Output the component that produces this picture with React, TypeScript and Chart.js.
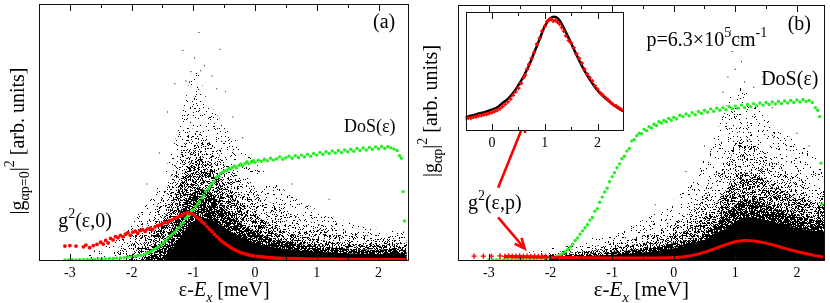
import React, { useEffect, useRef } from 'react';
import { Chart, registerables } from 'chart.js';
Chart.register(...registerables);

const FONT = "'Liberation Serif', 'Times New Roman', Times, serif";
const RED = '#ff0000';
const GREEN = '#22ee22';

// ---------- axis ranges / ticks ----------
const xRangeA = [-3.5, 2.5];
const xRangeB = [-3.5, 2.45];
const xRangeInset = [-0.5, 2.5];
const xTicksMain = [-3.5, -3, -2.5, -2, -1.5, -1, -0.5, 0, 0.5, 1, 1.5, 2, 2.5];
const xTicksInset = [-0.5, 0, 0.5, 1, 1.5, 2, 2.5];

// ---------- panel (a) ----------
const greenAX = [-3.08,-3.02,-2.96,-2.9,-2.84,-2.78,-2.72,-2.66,-2.6,-2.54,-2.48,-2.42,-2.36,-2.3,-2.24,-2.18,-2.12,-2.06,-2.0,-1.95,-1.9,-1.85,-1.8,-1.76,-1.72,-1.68,-1.64,-1.6,-1.56,-1.52,-1.48,-1.44,-1.41,-1.37,-1.34,-1.3,-1.27,-1.23,-1.2,-1.16,-1.13,-1.1,-1.06,-1.03,-1.0,-0.96,-0.93,-0.9,-0.86,-0.83,-0.8,-0.76,-0.73,-0.7,-0.66,-0.63,-0.6,-0.56,-0.53,-0.5,-0.46,-0.43,-0.4,-0.36,-0.33,-0.3,-0.26,-0.23,-0.2,-0.16,-0.13,-0.1,-0.06,-0.03,0.0,0.05,0.1,0.15,0.2,0.25,0.3,0.35,0.4,0.45,0.5,0.55,0.6,0.65,0.7,0.75,0.8,0.85,0.9,0.95,1.0,1.05,1.1,1.15,1.2,1.25,1.3,1.35,1.4,1.45,1.5,1.55,1.6,1.65,1.7,1.75,1.8,1.85,1.9,1.95,2.0,2.05,2.1,2.15,2.2,2.25,2.3,2.34,2.37,2.4,2.42];
const greenAY = [0.004,0.004,0.005,0.004,0.005,0.005,0.006,0.006,0.006,0.007,0.008,0.008,0.009,0.01,0.011,0.012,0.013,0.015,0.017,0.018,0.021,0.022,0.025,0.03,0.032,0.038,0.044,0.05,0.055,0.063,0.072,0.08,0.09,0.097,0.105,0.112,0.122,0.13,0.142,0.15,0.165,0.172,0.18,0.192,0.2,0.212,0.222,0.232,0.245,0.255,0.27,0.28,0.29,0.3,0.31,0.325,0.33,0.34,0.345,0.35,0.352,0.36,0.358,0.365,0.37,0.362,0.372,0.378,0.37,0.38,0.386,0.378,0.385,0.39,0.384,0.392,0.388,0.395,0.39,0.4,0.393,0.398,0.405,0.396,0.402,0.408,0.4,0.41,0.403,0.412,0.405,0.415,0.408,0.418,0.412,0.422,0.415,0.425,0.418,0.428,0.42,0.43,0.422,0.432,0.425,0.435,0.427,0.438,0.43,0.44,0.432,0.442,0.435,0.444,0.437,0.446,0.438,0.445,0.44,0.436,0.43,0.41,0.4,0.27,0.156];

const redAX = [-3.08,-3.0,-2.9,-2.78,-2.74,-2.68,-2.62,-2.56,-2.5,-2.46,-2.42,-2.38,-2.34,-2.3,-2.26,-2.22,-2.18,-2.14,-2.1,-2.06,-2.02,-1.98,-1.94,-1.9,-1.86,-1.82,-1.78,-1.74,-1.7,-1.66,-1.62,-1.58,-1.54,-1.5,-1.46,-1.42,-1.38,-1.34,-1.3,-1.26,-1.22,-1.18,-1.14,-1.1,-1.06,-1.02,-0.98,-0.94,-0.9,-0.86,-0.82,-0.78,-0.74,-0.7,-0.66,-0.62,-0.58,-0.54,-0.5];
const redAY = [0.058,0.06,0.058,0.055,0.062,0.052,0.06,0.065,0.073,0.066,0.08,0.07,0.088,0.082,0.095,0.09,0.1,0.094,0.104,0.11,0.1,0.112,0.116,0.108,0.118,0.122,0.115,0.125,0.128,0.122,0.133,0.138,0.14,0.145,0.15,0.148,0.158,0.16,0.166,0.17,0.175,0.178,0.184,0.188,0.186,0.183,0.178,0.17,0.162,0.152,0.145,0.134,0.124,0.115,0.104,0.095,0.086,0.077,0.07];
const redALineX = [-0.5,-0.4,-0.3,-0.2,-0.1,0,0.2,0.4,0.7,1.0,1.5,2.0,2.45];
const redALineY = [0.07,0.053,0.04,0.03,0.024,0.019,0.014,0.011,0.009,0.007,0.006,0.005,0.005];

const cloudASparseX = [-2.8,-2.5,-2.2,-2.0,-1.8,-1.6,-1.4,-1.25,-1.1,-1.0,-0.9,-0.8,-0.65,-0.5,-0.3,-0.1,0.1,0.4,0.7,1.0,1.4,1.8,2.2,2.42,2.46];
const cloudASparseY = [0,0.06,0.1,0.15,0.21,0.28,0.39,0.51,0.66,0.74,0.72,0.64,0.58,0.53,0.47,0.41,0.36,0.29,0.24,0.2,0.16,0.13,0.12,0.11,0];
const cloudALightX = [-2.4,-2.1,-1.8,-1.6,-1.4,-1.2,-1.05,-0.9,-0.75,-0.6,-0.4,-0.2,0,0.3,0.6,1.0,1.5,2.0,2.42,2.46];
const cloudALightY = [0,0.08,0.14,0.21,0.31,0.42,0.51,0.51,0.47,0.43,0.37,0.31,0.27,0.22,0.18,0.145,0.115,0.095,0.09,0];
const cloudAMedX = [-2.1,-1.8,-1.5,-1.3,-1.15,-1.0,-0.85,-0.7,-0.5,-0.3,0,0.3,0.6,1.0,1.5,2.0,2.42,2.46];
const cloudAMedY = [0,0.07,0.16,0.26,0.34,0.4,0.4,0.37,0.31,0.25,0.18,0.135,0.105,0.085,0.07,0.062,0.062,0];
const cloudADenseX = [-1.8,-1.5,-1.3,-1.1,-0.9,-0.7,-0.5,-0.3,0,0.4,1.0,1.6,2.0,2.42,2.46];
const cloudADenseY = [0,0.07,0.15,0.24,0.28,0.26,0.21,0.16,0.115,0.08,0.058,0.047,0.044,0.044,0];
const cloudASolidX = [-1.5,-1.3,-1.1,-0.9,-0.7,-0.5,-0.3,0,0.4,1.0,1.6,2.0,2.42,2.46];
const cloudASolidY = [0,0.06,0.13,0.165,0.16,0.13,0.1,0.07,0.05,0.036,0.029,0.027,0.027,0];
const outAX = [-0.91,-1.17,-0.57,-1.04,-0.98,-0.82,-1.3,-0.48,-1.42,-0.36,-0.7,-1.12,-0.88,-0.62,-1.55,-0.2,0.15,0.6,1.2,-1.75];
const outAY = [0.889,0.819,0.824,0.737,0.79,0.76,0.69,0.66,0.58,0.56,0.72,0.7,0.74,0.67,0.42,0.48,0.4,0.3,0.24,0.3];

// ---------- panel (b) ----------
const greenBX = [-3.0,-2.94,-2.88,-2.82,-2.76,-2.7,-2.64,-2.58,-2.52,-2.46,-2.4,-2.34,-2.28,-2.22,-2.16,-2.1,-2.04,-1.98,-1.93,-1.88,-1.84,-1.8,-1.76,-1.72,-1.68,-1.64,-1.6,-1.56,-1.52,-1.48,-1.44,-1.4,-1.36,-1.32,-1.28,-1.24,-1.2,-1.16,-1.12,-1.08,-1.04,-1.0,-0.96,-0.92,-0.88,-0.84,-0.8,-0.76,-0.72,-0.68,-0.64,-0.6,-0.56,-0.52,-0.48,-0.44,-0.4,-0.36,-0.32,-0.28,-0.24,-0.2,-0.16,-0.12,-0.08,-0.04,0,0.05,0.1,0.15,0.2,0.25,0.3,0.35,0.4,0.45,0.5,0.55,0.6,0.65,0.7,0.75,0.8,0.85,0.9,0.95,1.0,1.05,1.1,1.15,1.2,1.25,1.3,1.35,1.4,1.45,1.5,1.55,1.6,1.65,1.7,1.75,1.8,1.85,1.9,1.95,2.0,2.05,2.1,2.15,2.2,2.25,2.3,2.34,2.37,2.39,2.41];
const greenBY = [0.004,0.005,0.004,0.005,0.005,0.006,0.005,0.006,0.006,0.007,0.007,0.008,0.008,0.009,0.01,0.011,0.012,0.014,0.016,0.02,0.024,0.03,0.036,0.045,0.055,0.066,0.08,0.09,0.105,0.118,0.13,0.142,0.16,0.17,0.195,0.205,0.23,0.25,0.27,0.285,0.31,0.33,0.345,0.365,0.38,0.4,0.41,0.43,0.44,0.47,0.475,0.49,0.5,0.498,0.515,0.51,0.525,0.52,0.535,0.53,0.545,0.54,0.55,0.545,0.558,0.55,0.562,0.556,0.57,0.565,0.575,0.568,0.58,0.572,0.585,0.578,0.59,0.582,0.595,0.586,0.598,0.59,0.6,0.592,0.604,0.596,0.606,0.598,0.61,0.6,0.612,0.604,0.615,0.607,0.618,0.61,0.62,0.612,0.622,0.614,0.624,0.616,0.626,0.618,0.628,0.62,0.63,0.622,0.632,0.624,0.628,0.62,0.6,0.59,0.565,0.383,0.223];

const redBPlusX = [-3.24,-3.09,-2.96,-2.82,-2.74,-2.68,-2.62,-2.56,-2.5,-2.44,-2.38,-2.32,-2.26,-2.2,-2.14,-2.08];
const redBPlusY = [0.019,0.019,0.019,0.02,0.018,0.02,0.018,0.019,0.02,0.018,0.019,0.017,0.019,0.018,0.017,0.018];
const redBLineX = [-2.75,-2.5,-2.2,-2.0,-1.5,-1.0,-0.5,0,0.2,0.4,0.6,0.8,1.0,1.15,1.3,1.5,1.7,1.9,2.1,2.3,2.43];
const redBLineY = [0.018,0.017,0.016,0.015,0.013,0.012,0.012,0.014,0.018,0.027,0.042,0.06,0.075,0.08,0.078,0.07,0.057,0.043,0.031,0.021,0.016];

const cloudBSparseX = [-2.7,-2.4,-2.0,-1.5,-1.0,-0.5,0,0.3,0.6,0.8,0.95,1.1,1.3,1.5,1.8,2.1,2.3,2.46];
const cloudBSparseY = [0,0.03,0.05,0.08,0.11,0.16,0.24,0.32,0.45,0.57,0.66,0.68,0.62,0.56,0.5,0.45,0.41,0.37];
const cloudBLightX = [-2.4,-2.0,-1.5,-1.0,-0.5,0,0.3,0.6,0.85,1.05,1.25,1.5,1.8,2.1,2.46];
const cloudBLightY = [0,0.03,0.05,0.07,0.1,0.15,0.2,0.29,0.4,0.47,0.47,0.42,0.36,0.32,0.29];
const cloudBMedX = [-2.2,-2.0,-1.5,-1.0,-0.5,0,0.3,0.6,0.85,1.05,1.3,1.6,2.0,2.46];
const cloudBMedY = [0,0.025,0.036,0.052,0.07,0.1,0.135,0.2,0.28,0.34,0.34,0.3,0.25,0.22];
const cloudBDenseX = [-2.05,-1.9,-1.5,-1.0,-0.5,0,0.4,0.7,0.95,1.15,1.4,1.8,2.2,2.46];
const cloudBDenseY = [0,0.02,0.027,0.036,0.048,0.07,0.1,0.15,0.21,0.24,0.23,0.19,0.165,0.155];
const cloudBSolidX = [-1.95,-1.7,-1.0,-0.5,0,0.4,0.7,0.95,1.15,1.4,1.8,2.2,2.46];
const cloudBSolidY = [0,0.014,0.024,0.033,0.05,0.072,0.105,0.145,0.17,0.165,0.14,0.12,0.115];
const outBX = [0.95,1.0,0.88,1.15,1.3,0.7,1.6,0.5,2.0,0.2,1.05,0.8,2.2,-0.3,1.45,1.1,0.92];
const outBY = [0.82,0.75,0.72,0.7,0.68,0.6,0.6,0.45,0.5,0.35,0.86,0.66,0.45,0.22,0.72,0.78,0.9];

// ---------- inset ----------
const insetFitX = [-0.5,-0.3,-0.1,0,0.1,0.2,0.3,0.4,0.5,0.6,0.7,0.8,0.9,1.0,1.1,1.18,1.25,1.3,1.4,1.5,1.6,1.7,1.8,1.9,2.0,2.1,2.2,2.3,2.4,2.5];
const insetFitY = [0.115,0.14,0.165,0.18,0.2,0.235,0.27,0.32,0.385,0.46,0.55,0.66,0.77,0.88,0.945,0.96,0.945,0.915,0.83,0.735,0.64,0.55,0.47,0.4,0.34,0.295,0.255,0.22,0.19,0.165];
const insetRedX = [-0.5,-0.45,-0.4,-0.35,-0.3,-0.25,-0.2,-0.15,-0.1,-0.05,0,0.05,0.1,0.15,0.2,0.25,0.3,0.35,0.4,0.45,0.5,0.55,0.6,0.63,0.67,0.7,0.75,0.8,0.85,0.9,0.95,1.0,1.04,1.08,1.12,1.16,1.2,1.24,1.28,1.32,1.36,1.4,1.45,1.5,1.55,1.6,1.65,1.7,1.75,1.8,1.85,1.9,1.95,2.0,2.05,2.1,2.15,2.2,2.25,2.3,2.35,2.4,2.45,2.5];
const insetRedY = [0.105,0.11,0.108,0.118,0.12,0.128,0.13,0.138,0.14,0.15,0.155,0.165,0.175,0.19,0.205,0.225,0.245,0.27,0.3,0.33,0.36,0.4,0.45,0.47,0.52,0.56,0.61,0.66,0.73,0.78,0.84,0.88,0.92,0.935,0.94,0.925,0.93,0.915,0.9,0.87,0.84,0.8,0.76,0.74,0.7,0.65,0.61,0.57,0.52,0.48,0.45,0.42,0.38,0.35,0.32,0.3,0.28,0.26,0.24,0.22,0.21,0.195,0.18,0.168];

// ---------- helpers ----------
const pts = (xs: number[], ys: number[]) => xs.map((x, i) => ({ x, y: ys[i] }));

function hash(x: number, y: number, s: number) {
  let h = Math.imul(x, 374761393) + Math.imul(y, 668265263) + Math.imul(s, 982451653);
  h = Math.imul(h ^ (h >>> 13), 1274126177);
  h = h ^ (h >>> 16);
  return ((h >>> 0) % 10000) / 10000;
}
function makePattern(density: number, seed: number): CanvasPattern | string {
  const c = document.createElement('canvas');
  c.width = 97; c.height = 89;
  const g = c.getContext('2d');
  if (!g) return '#000';
  g.fillStyle = '#000';
  for (let y = 0; y < c.height; y++) for (let x = 0; x < c.width; x++) {
    if (hash(x, y, seed) < density) g.fillRect(x, y, 1, 1);
  }
  return g.createPattern(c, 'repeat') || '#000';
}

type Seg = { t: string; size: number; italic?: boolean; dy?: number };
const fontOf = (s: Seg) => `${s.italic ? 'italic ' : ''}${s.size}px ${FONT}`;
function drawRich(ctx: CanvasRenderingContext2D, segs: Seg[], x: number, y: number, align: 'left' | 'center') {
  let w = 0;
  for (const s of segs) { ctx.font = fontOf(s); w += ctx.measureText(s.t).width; }
  let cx = align === 'center' ? x - w / 2 : x;
  ctx.textAlign = 'left';
  ctx.textBaseline = 'alphabetic';
  ctx.fillStyle = '#000';
  for (const s of segs) {
    ctx.font = fontOf(s);
    ctx.fillText(s.t, cx, y + (s.dy || 0));
    cx += ctx.measureText(s.t).width;
  }
}
function drawFrameTicks(chart: any, major: number, minor: number) {
  const ctx: CanvasRenderingContext2D = chart.ctx;
  const a = chart.chartArea;
  const xs = chart.scales.x;
  const l = Math.round(a.left), r = Math.round(a.right), t = Math.round(a.top), b = Math.round(a.bottom);
  ctx.save();
  ctx.strokeStyle = '#111';
  ctx.lineWidth = 1;
  ctx.strokeRect(l + 0.5, t + 0.5, r - l - 1, b - t - 1);
  ctx.beginPath();
  for (const tk of xs.ticks) {
    const v = tk.value;
    if (v <= xs.min + 1e-9 || v >= xs.max - 1e-9) continue;
    const px = Math.round(xs.getPixelForValue(v)) + 0.5;
    const len = Number.isInteger(v) ? major : minor;
    ctx.moveTo(px, b); ctx.lineTo(px, b - len);
    ctx.moveTo(px, t); ctx.lineTo(px, t + len);
  }
  ctx.stroke();
  ctx.restore();
}
function xTitle(chart: any, size: number, baseline: number) {
  const a = chart.chartArea;
  drawRich(chart.ctx, [
    { t: 'ε-', size },
    { t: 'E', size, italic: true },
    { t: 'x', size: Math.round(size * 0.7), italic: true, dy: 6 },
    { t: ' [meV]', size },
  ], (a.left + a.right) / 2, baseline, 'center');
}
function yTitle(chart: any, segs: Seg[], x: number, cy: number) {
  const ctx: CanvasRenderingContext2D = chart.ctx;
  ctx.save();
  ctx.translate(x, cy);
  ctx.rotate(-Math.PI / 2);
  drawRich(ctx, segs, 0, 0, 'center');
  ctx.restore();
}
function arrow(ctx: CanvasRenderingContext2D, x0: number, y0: number, x1: number, y1: number) {
  const ang = Math.atan2(y1 - y0, x1 - x0);
  const h = 11, sp = 0.42;
  ctx.save();
  ctx.strokeStyle = RED; ctx.lineWidth = 2.6; ctx.lineCap = 'butt';
  ctx.beginPath(); ctx.moveTo(x0, y0); ctx.lineTo(x1, y1); ctx.stroke();
  ctx.beginPath();
  ctx.moveTo(x1 - h * Math.cos(ang - sp), y1 - h * Math.sin(ang - sp));
  ctx.lineTo(x1, y1);
  ctx.lineTo(x1 - h * Math.cos(ang + sp), y1 - h * Math.sin(ang + sp));
  ctx.stroke();
  ctx.restore();
}

function xScale(range: number[], tickVals: number[], height: number, padding: number) {
  return {
    type: 'linear', min: range[0], max: range[1],
    afterBuildTicks: (s: any) => {
      s.ticks = tickVals.filter((v) => v >= s.min - 1e-9 && v <= s.max + 1e-9).map((v) => ({ value: v }));
    },
    ticks: {
      autoSkip: false, maxRotation: 0, minRotation: 0, padding, color: '#000',
      font: { family: FONT, size: 14 },
      callback: (v: any) => (Number.isInteger(v) ? String(v) : ''),
    },
    grid: { display: false, drawTicks: false },
    border: { display: false },
    afterFit: (s: any) => { s.height = height; },
  };
}

function cloudLayer(xs: number[], ys: number[], bg: any, order: number) {
  return {
    data: pts(xs, ys), showLine: true, fill: 'origin', backgroundColor: bg,
    borderWidth: 0, borderColor: 'rgba(0,0,0,0)', pointRadius: 0, tension: 0.35, order,
  };
}

export default function App() {
  const refA = useRef<HTMLCanvasElement>(null);
  const refB = useRef<HTMLCanvasElement>(null);
  const refI = useRef<HTMLCanvasElement>(null);

  useEffect(() => {
    const pS = makePattern(0.05, 1), pL = makePattern(0.13, 2), pM = makePattern(0.32, 3), pD = makePattern(0.6, 4);
    const common: any = {
      responsive: false, animation: false, events: [],
      plugins: { legend: { display: false }, tooltip: { enabled: false } },
    };

    const chartA = new Chart(refA.current as HTMLCanvasElement, {
      type: 'line',
      data: {
        datasets: [
          cloudLayer(cloudASparseX, cloudASparseY, pS, 20),
          cloudLayer(cloudALightX, cloudALightY, pL, 19),
          cloudLayer(cloudAMedX, cloudAMedY, pM, 18),
          cloudLayer(cloudADenseX, cloudADenseY, pD, 17),
          cloudLayer(cloudASolidX, cloudASolidY, '#000', 16),
          { data: pts(outAX, outAY), showLine: false, pointStyle: 'rect', pointRadius: 0.7, backgroundColor: '#000', borderWidth: 0, order: 15 },
          { data: pts(greenAX, greenAY), showLine: false, pointRadius: 1.7, backgroundColor: GREEN, borderWidth: 0, order: 3 },
          { data: pts(redALineX, redALineY), showLine: true, borderColor: RED, borderWidth: 3.5, pointRadius: 0, tension: 0.4, fill: false, order: 2 },
          { data: pts(redAX, redAY), showLine: false, pointRadius: 1.9, backgroundColor: RED, borderWidth: 0, order: 1 },
        ] as any,
      },
      options: {
        ...common,
        layout: { padding: { left: 39, right: 5.6, top: 2, bottom: 0 } },
        scales: { x: xScale(xRangeA, xTicksMain, 42, 4) as any, y: { display: false, min: 0, max: 1 } },
      },
      plugins: [{
        id: 'decorA',
        afterDraw(chart: any) {
          const ctx = chart.ctx; const X = chart.scales.x, Y = chart.scales.y;
          drawFrameTicks(chart, 7, 4);
          xTitle(chart, 20, 296);
          yTitle(chart, [
            { t: '|g', size: 20 }, { t: 'αp=0', size: 14, dy: 5 }, { t: '|', size: 20 },
            { t: '2', size: 14, dy: -10 }, { t: ' [arb. units]', size: 20 },
          ], 24, 141);
          drawRich(ctx, [{ t: '(a)', size: 20 }], X.getPixelForValue(1.91), Y.getPixelForValue(0.905), 'left');
          drawRich(ctx, [{ t: 'DoS(ε)', size: 18 }], X.getPixelForValue(1.44), Y.getPixelForValue(0.502), 'left');
          drawRich(ctx, [{ t: 'g', size: 20 }, { t: '2', size: 14, dy: -9 }, { t: '(ε,0)', size: 20 }],
            X.getPixelForValue(-3.19), Y.getPixelForValue(0.132), 'left');
        },
      }],
    });

    const chartB = new Chart(refB.current as HTMLCanvasElement, {
      type: 'line',
      data: {
        datasets: [
          cloudLayer(cloudBSparseX, cloudBSparseY, pS, 20),
          cloudLayer(cloudBLightX, cloudBLightY, pL, 19),
          cloudLayer(cloudBMedX, cloudBMedY, pM, 18),
          cloudLayer(cloudBDenseX, cloudBDenseY, pD, 17),
          cloudLayer(cloudBSolidX, cloudBSolidY, '#000', 16),
          { data: pts(outBX, outBY), showLine: false, pointStyle: 'rect', pointRadius: 0.7, backgroundColor: '#000', borderWidth: 0, order: 15 },
          { data: pts(greenBX, greenBY), showLine: false, pointRadius: 1.7, backgroundColor: GREEN, borderWidth: 0, order: 3 },
          { data: pts(redBLineX, redBLineY), showLine: true, borderColor: RED, borderWidth: 3, pointRadius: 0, tension: 0.4, fill: false, order: 2 },
          { data: pts(redBPlusX, redBPlusY), showLine: false, pointStyle: 'cross', pointRadius: 2.6, borderColor: RED, borderWidth: 1.4, order: 1 },
        ] as any,
      },
      options: {
        ...common,
        layout: { padding: { left: 43.1, right: 4.7, top: 2, bottom: 0 } },
        scales: { x: xScale(xRangeB, xTicksMain, 42, 4) as any, y: { display: false, min: 0, max: 1 } },
      },
      plugins: [{
        id: 'decorB',
        afterDraw(chart: any) {
          const ctx = chart.ctx; const X = chart.scales.x, Y = chart.scales.y;
          drawFrameTicks(chart, 7, 4);
          xTitle(chart, 21, 296);
          yTitle(chart, [
            { t: '|g', size: 20 }, { t: 'αp', size: 14, dy: 5 }, { t: '|', size: 20 },
            { t: '2', size: 14, dy: -10 }, { t: ' [arb. units]', size: 20 },
          ], 22, 111);
          drawRich(ctx, [{ t: '(b)', size: 20 }], X.getPixelForValue(1.85), Y.getPixelForValue(0.903), 'left');
          drawRich(ctx, [
            { t: 'p=6.3×10', size: 20 }, { t: '5', size: 14, dy: -9 }, { t: 'cm', size: 20 }, { t: '-1', size: 14, dy: -9 },
          ], X.getPixelForValue(-0.44), Y.getPixelForValue(0.843), 'left');
          drawRich(ctx, [{ t: 'DoS(ε)', size: 20 }], X.getPixelForValue(1.42), Y.getPixelForValue(0.687), 'left');
          drawRich(ctx, [{ t: 'g', size: 20 }, { t: '2', size: 14, dy: -9 }, { t: '(ε,p)', size: 20 }],
            X.getPixelForValue(-3.34), Y.getPixelForValue(0.205), 'left');
          arrow(ctx, X.getPixelForValue(-2.85), Y.getPixelForValue(0.287), X.getPixelForValue(-2.42), Y.getPixelForValue(0.544));
          arrow(ctx, X.getPixelForValue(-2.85), Y.getPixelForValue(0.171), X.getPixelForValue(-2.42), Y.getPixelForValue(0.049));
        },
      }],
    });

    const chartI = new Chart(refI.current as HTMLCanvasElement, {
      type: 'line',
      data: {
        datasets: [
          { data: pts(insetFitX, insetFitY), showLine: true, borderColor: '#000', borderWidth: 2.5, pointRadius: 0, tension: 0.4, fill: false, order: 2 },
          { data: pts(insetRedX, insetRedY), showLine: false, pointStyle: 'cross', pointRadius: 2, borderColor: RED, borderWidth: 1.6, order: 1 },
        ] as any,
      },
      options: {
        ...common,
        layout: { padding: { left: 4, right: 6, top: 12, bottom: 0 } },
        scales: { x: xScale(xRangeInset, xTicksInset, 24, 4) as any, y: { display: false, min: 0, max: 1 } },
      },
      plugins: [{
        id: 'decorI',
        beforeDraw(chart: any) {
          const a = chart.chartArea; const ctx = chart.ctx;
          ctx.save(); ctx.fillStyle = '#fff'; ctx.fillRect(a.left, a.top, a.right - a.left, a.bottom - a.top); ctx.restore();
        },
        afterDraw(chart: any) { drawFrameTicks(chart, 7, 4); },
      }],
    });

    const charts = [chartA, chartB, chartI];
    return () => { charts.forEach((c) => c.destroy()); };
  }, []);

  return (
    <div style={{ position: 'absolute', left: 0, top: 0, width: 830, height: 303, background: '#fff' }}>
      <canvas ref={refA} width={415} height={303} style={{ position: 'absolute', left: 0, top: 0 }} />
      <canvas ref={refB} width={415} height={303} style={{ position: 'absolute', left: 415, top: 0 }} />
      <canvas ref={refI} width={170} height={155} style={{ position: 'absolute', left: 460, top: 0 }} />
    </div>
  );
}
